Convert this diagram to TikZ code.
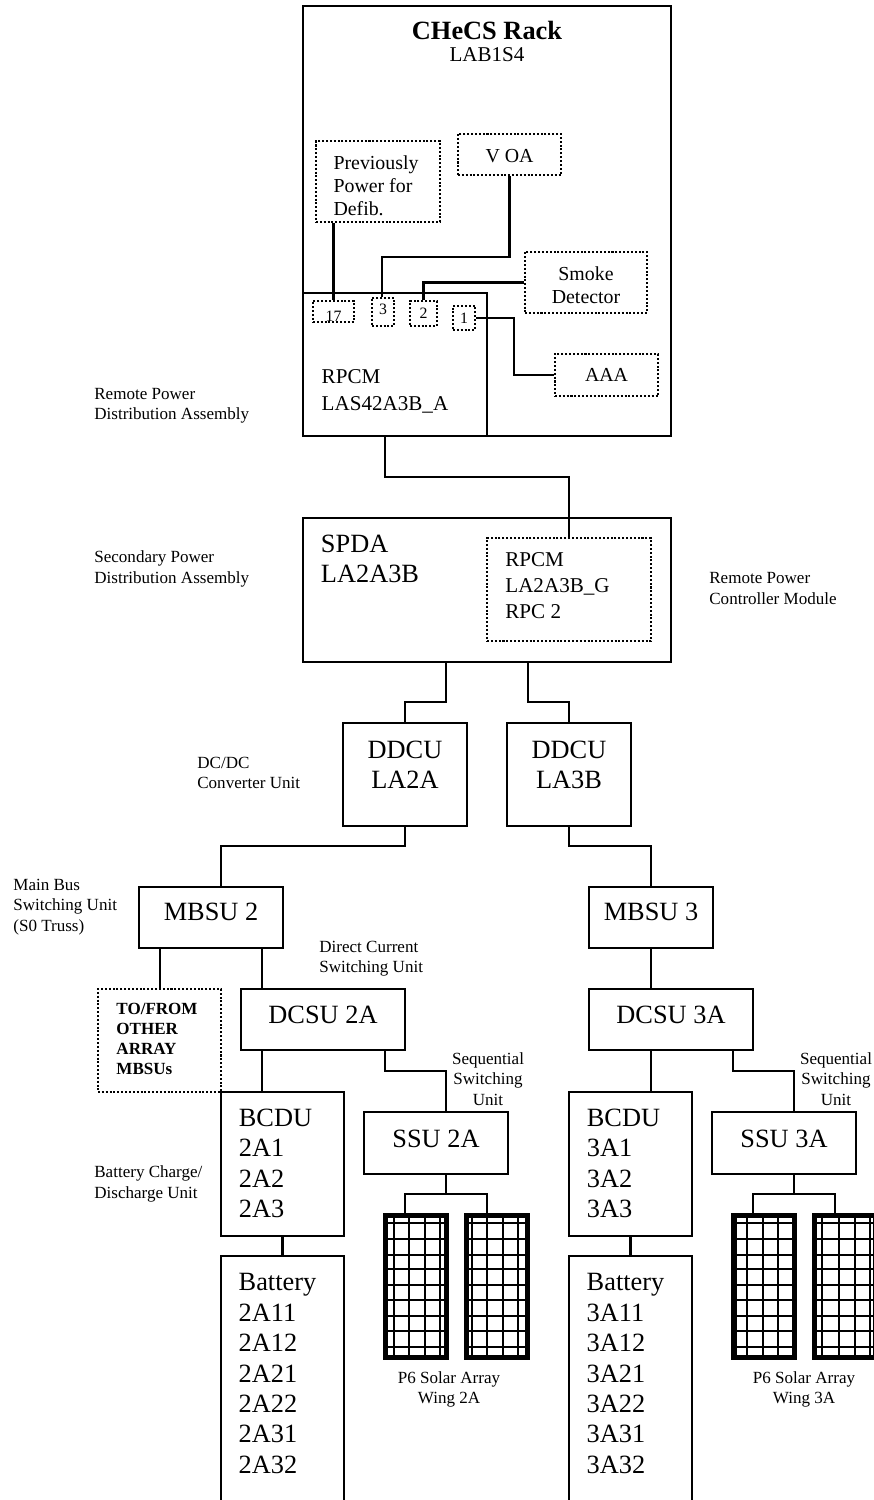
\documentclass[tikz,border=0pt]{standalone}
\usepackage{fontspec}
\setmainfont{Liberation Serif}
\usepackage{tikz}

\begin{document}
\begin{tikzpicture}[x=0.02cm,y=-0.02cm,
    box/.style={draw,line width=1.15pt,inner sep=0pt,align=center},
    dotbox/.style={draw,line width=1.15pt,dash pattern=on 1.15pt off 1.05pt,inner sep=0pt,align=center},
    wire/.style={line width=1.2pt},
    panel/.style={draw,line width=2.9pt,inner sep=0pt,minimum width=1.22cm,minimum height=2.84cm},
    gridline/.style={line width=1pt},
    big/.style={font=\fontsize{15}{17.3}\selectfont},
    mid/.style={font=\fontsize{12}{14.6}\selectfont},
    med/.style={font=\fontsize{11.3}{13}\selectfont},
    tiny/.style={font=\fontsize{9}{10}\selectfont},
    note/.style={font=\fontsize{9.7}{11.5}\selectfont,inner sep=0pt,align=left},
    notec/.style={font=\fontsize{9.7}{11.5}\selectfont,inner sep=0pt,align=center}]

    \useasboundingbox (0,0) rectangle (873,1500);

    % rack and what hangs on it
    \node[box,minimum width=7.36cm,minimum height=8.6cm]    (rack) at (487,221)   {};
    \node[font=\fontsize{15}{17}\selectfont\bfseries,inner sep=0pt] (racktitle) at (487,30) {CHeCS Rack};
    \node[mid,inner sep=0pt]                                (rackloc) at (487,55) {LAB1S4};
    \node[box,line width=1.5pt,minimum width=3.68cm,minimum height=2.86cm]   (rpcma) at (395,364.5) {};
    \node[font=\fontsize{12}{15.3}\selectfont,inner sep=0pt,align=left]      (rpcmatxt) at (385,391) {RPCM\\LAS42A3B\_A};

    \node[dotbox,minimum width=2.48cm,minimum height=1.62cm] (defib) at (378,181.5) {};
    \node[med,inner sep=0pt,align=left]                      (defibtxt) at (376,186) {Previously\\Power for\\Defib.};
    \node[dotbox,med,text height=9.5pt,minimum width=2.06cm,minimum height=0.82cm] (voa) at (509.5,154.5) {V OA};
    \node[dotbox,minimum width=2.44cm,minimum height=1.22cm] (smoke) at (586,282.5) {};
    \node[med,inner sep=0pt,align=center]                    (smoketxt) at (586,285.5) {Smoke\\Detector};
    \node[dotbox,med,minimum width=2.06cm,minimum height=0.84cm] (aaa) at (606.5,375) {AAA};

    \node[dotbox,tiny,text height=11pt,minimum width=0.82cm,minimum height=0.42cm]  (p17) at (333.5,311.5) {17};
    \node[dotbox,tiny,text depth=3.4pt,minimum width=0.44cm,minimum height=0.56cm]  (p3) at (383,312) {3};
    \node[dotbox,tiny,minimum width=0.54cm,minimum height=0.5cm]   (p2) at (423.5,313.5) {2};
    \node[dotbox,tiny,minimum width=0.44cm,minimum height=0.48cm]  (p1) at (464,318) {1};

    \coordinate (voabend) at (382,257);
    \coordinate (aaabend) at (514,318);

    \draw[wire] (defib.south -| p17) -- (p17.north);
    \draw[wire] (voa.south) |- (voabend) -- (voabend |- p3.north);
    \draw[wire] (smoke.west) -| (p2.north);
    \draw[wire] (p1.east) -- (aaabend) |- (aaa.west);

    % power distribution
    \node[box,minimum width=7.36cm,minimum height=2.88cm]   (spda) at (487,590)  {};
    \node[big,inner sep=0pt,align=left]                     (spdatxt) at (370,559) {SPDA\\LA2A3B};
    \node[dotbox,minimum width=3.28cm,minimum height=2.06cm] (rpcmg) at (569,589.5) {};
    \node[mid,inner sep=0pt,align=left]                     (rpcmgtxt) at (557.5,585.5) {RPCM\\LA2A3B\_G\\RPC 2};
    \node[box,minimum width=2.48cm,minimum height=2.06cm]   (ddcua) at (405,774.5)  {};
    \node[box,minimum width=2.48cm,minimum height=2.06cm]   (ddcub) at (569,774.5)  {};
    \node[big,inner sep=0pt,align=center]                   (ddcuatxt) at (405,765) {DDCU\\LA2A};
    \node[big,inner sep=0pt,align=center]                   (ddcubtxt) at (569,765) {DDCU\\LA3B};

    \coordinate (ra) at (385,477);
    \coordinate (sa) at (446,702);
    \coordinate (sb) at (528,702);
    \coordinate (da) at (221,846);
    \coordinate (db) at (651,846);

    \draw[wire] (ra |- rpcma.south) -- (ra) -| (rpcmg.north);
    \draw[wire] (sa |- spda.south) -- (sa) -| (ddcua.north);
    \draw[wire] (sb |- spda.south) -- (sb) -| (ddcub.north);

    % array side, 2A then 3A
    \node[box,big,text depth=6pt,minimum width=2.88cm,minimum height=1.22cm] (mbsua) at (211,917.5) {MBSU 2};
    \node[box,big,text depth=6pt,minimum width=2.48cm,minimum height=1.22cm] (mbsub) at (651,917.5) {MBSU 3};
    \node[dotbox,minimum width=2.46cm,minimum height=2.06cm] (other) at (159.5,1040.5) {};
    \node[note,font=\fontsize{9.7}{11.4}\selectfont\bfseries] (othertxt) at (157,1039) {TO/FROM\\OTHER\\ARRAY\\MBSUs};
    \node[box,big,text depth=5.5pt,minimum width=3.28cm,minimum height=1.22cm] (dcsua) at (323,1019.5) {DCSU 2A};
    \node[box,big,text depth=5.5pt,minimum width=3.28cm,minimum height=1.22cm] (dcsub) at (671,1019.5) {DCSU 3A};

    \node[box,minimum width=2.46cm,minimum height=2.88cm]  (bcdua) at (282.5,1164) {};
    \node[box,minimum width=2.46cm,minimum height=2.88cm]  (bcdub) at (630.5,1164) {};
    \node[big,inner sep=0pt,align=left] (bcduatxt) at (275.5,1163.5) {BCDU\\2A1\\2A2\\2A3};
    \node[big,inner sep=0pt,align=left] (bcdubtxt) at (623.5,1163.5) {BCDU\\3A1\\3A2\\3A3};
    \node[box,minimum width=2.46cm,minimum height=4.96cm] (batta) at (282.5,1380) {};
    \node[box,minimum width=2.46cm,minimum height=4.96cm] (battb) at (630.5,1380) {};
    \node[big,inner sep=0pt,align=left] (battatxt) at (277.5,1373.5) {Battery\\2A11\\2A12\\2A21\\2A22\\2A31\\2A32};
    \node[big,inner sep=0pt,align=left] (battbtxt) at (625.5,1373.5) {Battery\\3A11\\3A12\\3A21\\3A22\\3A31\\3A32};
    \node[box,big,text depth=5pt,minimum width=2.88cm,minimum height=1.24cm] (ssua) at (436,1143) {SSU 2A};
    \node[box,big,text depth=5pt,minimum width=2.88cm,minimum height=1.24cm] (ssub) at (784,1143) {SSU 3A};

    \foreach \name/\px/\xa/\xb/\xc/\xd in {pa/383/11/26/42/57, pb/464/8/23/39/54, pc/731/5/16/32/47, pd/812/10/27/43/58}{
        \node[panel] (\name) at (\px+33,1286.5) {};
        \foreach \yy in {1223,1239,1255,1269,1285,1300,1316,1331,1347}
            \draw[gridline] (\px+3,\yy) -- (\px+63,\yy);
        \foreach \xx in {\xa,\xb,\xc,\xd}
            \draw[gridline] (\px+\xx,1216) -- (\px+\xx,1358);
    }

    \coordinate (ca) at (385,1071);
    \coordinate (cb) at (733,1071);
    \coordinate (ja) at (446,1071);
    \coordinate (jb) at (794,1071);
    \coordinate (ka) at (446,1194);
    \coordinate (kb) at (794,1194);
    \coordinate (wa) at (405,1194);
    \coordinate (wb) at (487,1194);
    \coordinate (wc) at (753,1194);
    \coordinate (wd) at (835,1194);
    \coordinate (mo) at (160,948);
    \coordinate (md) at (262,948);

    \draw[wire] (ddcua.south) |- (da) -- (da |- mbsua.north);
    \draw[wire] (ddcub.south) |- (db) -- (mbsub.north);
    \draw[wire] (mo |- mbsua.south) -- (mo |- other.north);
    \draw[wire] (md |- mbsua.south) -- (md |- dcsua.north);
    \draw[wire] (mbsub.south) -- (mbsub.south |- dcsub.north);
    \draw[wire] (md |- dcsua.south) -- (md |- bcdua.north);
    \draw[wire] (mbsub.south |- dcsub.south) -- (mbsub.south |- bcdub.north);
    \draw[wire] (bcdua.south) -- (batta.north);
    \draw[wire] (bcdub.south) -- (battb.north);
    \draw[wire] (ca |- dcsua.south) -- (ca) -- (ja) -- (ja |- ssua.north);
    \draw[wire] (cb |- dcsub.south) -- (cb) -- (jb) -- (jb |- ssub.north);
    \draw[wire] (ka |- ssua.south) -- (ka);
    \draw[wire] (kb |- ssub.south) -- (kb);
    \draw[wire] (wa |- pa.north) -- (wa) -- (wb) -- (wb |- pb.north);
    \draw[wire] (wc |- pc.north) -- (wc) -- (wd) -- (wd |- pd.north);

    % side notes
    \node[note,anchor=west] (nrpda) at (94,406)    {Remote Power\\Distribution Assembly};
    \node[note,anchor=west] (nspda) at (94,569)    {Secondary Power\\Distribution Assembly};
    \node[note,anchor=west] (nrpcm) at (709,588.5) {Remote Power\\Controller Module};
    \node[note,anchor=west] (nddcu) at (197,773)   {DC/DC\\Converter Unit};
    \node[note,anchor=west] (nmbsu) at (13,907)    {Main Bus\\Switching Unit\\(S0 Truss)};
    \node[note,anchor=west] (ndcsu) at (319,959)   {Direct Current\\Switching Unit};
    \node[notec]            (nssua) at (488,1079)  {Sequential\\Switching\\Unit};
    \node[notec]            (nssub) at (836,1079)  {Sequential\\Switching\\Unit};
    \node[note,anchor=west] (nbcdu) at (94,1184)   {Battery Charge/\\Discharge Unit};
    \node[notec]            (nwinga) at (449,1389.5) {P6 Solar Array\\Wing 2A};
    \node[notec]            (nwingb) at (804,1389.5) {P6 Solar Array\\Wing 3A};
\end{tikzpicture}
\end{document}
